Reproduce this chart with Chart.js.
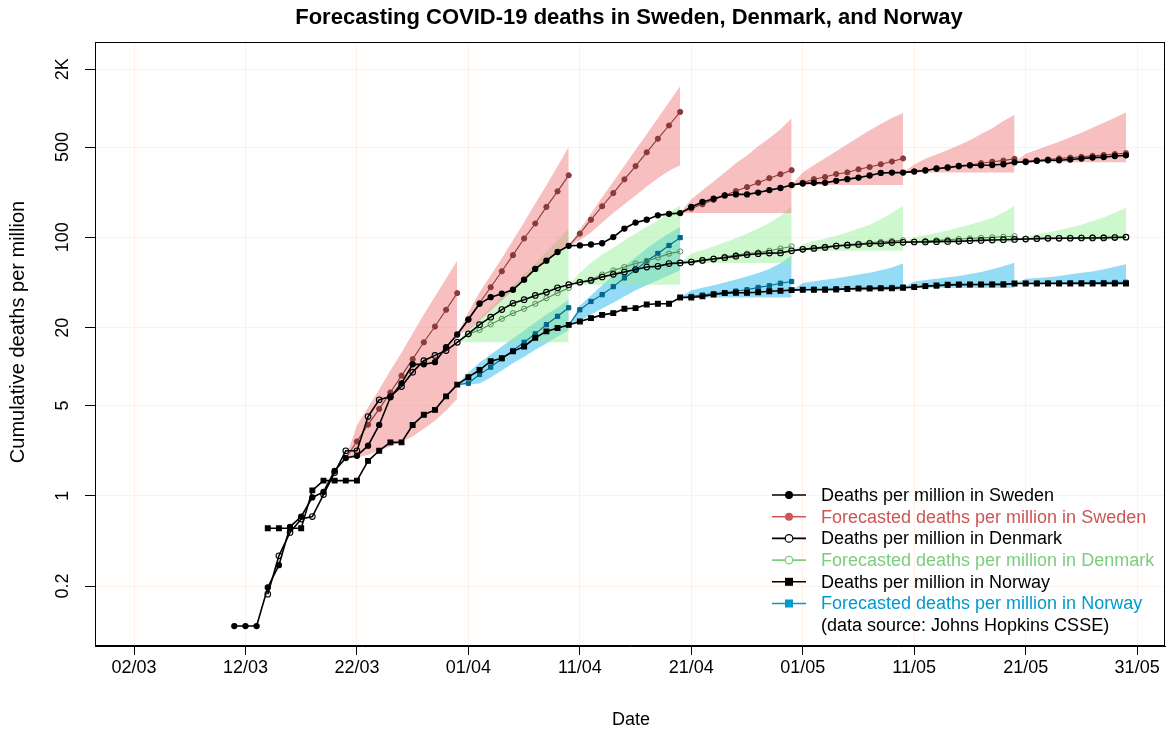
<!DOCTYPE html>
<html><head><meta charset="utf-8">
<script src="https://cdn.jsdelivr.net/npm/chart.js@4.4.0/dist/chart.umd.min.js"></script>
<style>html,body{margin:0;padding:0;background:#fff;}canvas{display:block;}</style>
</head><body>
<canvas id="c" width="1167" height="731"></canvas>
<script>
// ---------- DATA ----------
// x = day offset from 02/03
const xTickDays = [0,10,20,30,40,50,60,70,80,90];
const xTickLabels = ['02/03','12/03','22/03','01/04','11/04','21/04','01/05','11/05','21/05','31/05'];
const yTickValues = [0.2,1,5,20,100,500,2000];
const yTickLabels = ['0.2','1','5','20','100','500','2K'];

const swedenStartDay = 9;
const swedenDeaths = [0.098,0.098,0.098,0.195,0.29,0.575,0.69,0.97,1.07,1.56,
1.96,2.04,2.44,3.53,5.78,7.42,10.4,10.4,10.8,14.1,
17.7,23.1,30.6,34.4,36.6,39.3,47,57,66,77,
86,86.6,88,90,100.5,117,130,137,148,152,
154,172,188,199,211,215,215,222,232,241,
254,261,264,264,274,282,290,301,315,317,
317,323,329,341,347,357,361,361,363,368,
381,383,390,395,395,400,407,414,418,426,
431];

const denmarkStartDay = 12;
const denmarkDeaths = [0.173,0.343,0.52,0.66,0.69,1.02,1.51,2.23,
2.23,4.1,5.53,5.85,7.0,9.05,11.1,12.2,13.3,15.4,
17.9,21.1,24.1,27.6,30.9,32.9,35.5,37.6,40.7,43.0,
44.9,46.4,49.3,51.7,53.9,56.3,58.9,59.6,62.6,63.4,
64.3,66.3,67.9,69.6,71.5,73.3,74.7,75.5,75.8,78.7,
80.7,82.1,83.6,85.6,86.9,88.0,89.5,89.5,91.1,91.5,
92.0,92.1,92.6,93.0,93.1,94.2,94.7,95.3,95.9,96.4,
97.0,97.7,98.2,98.3,98.4,98.8,98.9,99.0,99.6,100.2];

const norwayStartDay = 12;
const norwayDeaths = [0.56,0.56,0.56,0.56,1.1,1.31,1.31,1.31,
1.31,1.86,2.23,2.59,2.59,3.53,4.24,4.62,5.88,7.25,
8.27,9.4,11.0,11.6,13.1,14.3,16.7,18.7,19.9,21.0,
22.3,23.7,25.1,25.9,28.0,28.3,30.2,30.6,30.6,34.2,
34.2,34.9,36.1,37.0,37.2,37.2,37.6,38.3,38.6,39.0,
39.3,39.3,39.3,39.5,39.8,40.1,40.1,40.3,40.3,40.7,
41.2,41.9,42.4,42.9,43.2,43.2,43.2,43.2,43.2,43.9,
43.9,43.9,43.9,43.9,43.9,43.9,43.9,43.9,43.9,43.9];

// forecasts: anchor day (last observed), 10 forecast values, band (anchor + 10 days)
const swedenForecastDays = [19,29,39,49,59,69,79];
const swedenForecast = [
 [2.63,3.55,4.7,6.3,8.5,11.4,15.4,20.4,27.5,37.0],
 [23.3,31.0,41.1,54.6,72.8,98,128,172,227,302],
 [107,137,174,220,281,356,455,580,734,935],
 [167,180,195,211,228,245,265,287,308,331],
 [265,282,293,309,318,336,350,368,386,408],
 [324,331,338,345,353,362,375,385,393,405],
 [388,395,401,408,414,420,427,434,441,448]];
const swedenUpper = [
 [1.96,3.49,4.81,6.63,9.31,12.8,18.0,25.3,34.9,48.1,66.3],
 [17.7,26.2,37.5,50.7,68.8,94.8,131,183,253,355,501],
 [86,115,153,204,269,358,477,629,836,1113,1480],
 [154,197,231,271,318,375,430,507,584,687,832],
 [254,317,363,409,464,526,596,675,753,840,917],
 [317,366,405,437,474,517,565,631,700,795,890],
 [381,443,477,512,550,596,646,706,772,844,926]];
const swedenLower = [
 [1.96,1.97,2.08,2.23,2.40,2.62,2.87,3.30,3.81,4.56,5.62],
 [17.7,19.0,22.7,27.1,32.5,38.9,46.5,55.6,64.5,75.2,86.7],
 [86,94.9,109,130,154,180,211,247,287,327,361],
 [154,154,154,154,154,154,154,154,154,154,154],
 [254,254,254,254,254,254,254,254,254,254,254],
 [317,317,317,317,317,317,317,317,317,317,317],
 [381,381,381,381,381,381,381,381,381,381,381]];

const denmarkForecastDays = [29,39,49,59,69,79];
const denmarkForecast = [
 [17.9,19.2,21.2,23.4,25.9,28.0,30.6,33.8,37.0,40.6],
 [44.9,46.9,51.5,55.5,58.9,62.7,65.6,69.7,74.8,77.7],
 [64.7,66.6,68.6,70.7,72.8,74.9,76.3,78.7,81.9,85.0],
 [81,82.8,84.5,86.2,87.8,89.3,90.8,92.2,93.5,94.8],
 [92.5,93.7,94.8,95.9,97,98,99,100,101,102],
 [97.2,97.8,98.3,98.8,99.2,99.5,99.8,100.1,100.4,100.7]];
const denmarkUpper = [
 [15.4,19.4,23.5,28.6,34.9,42.5,51.7,63.0,77.7,94.5,117],
 [43.0,53.3,63.6,73.5,83.1,94.5,107,121,135,156,177],
 [63.4,75.0,79.9,85.0,91.5,98.5,107,117,129,146,175],
 [78.7,88.2,93.7,97.4,103,109,117,125,138,154,175],
 [91.5,100,104,108.5,113,119,125,133,141,156,175],
 [96.4,101,105,109,114,119,125,134,143,155,169]];
const denmarkLower = [
 [15.4,15.4,15.4,15.4,15.4,15.4,15.4,15.4,15.4,15.4,15.4],
 [43.0,43.0,43.0,43.0,43.0,43.0,43.0,43.0,43.0,43.0,43.0],
 [63.4,63.4,63.4,63.4,63.4,63.4,63.4,63.4,63.4,63.4,63.4],
 [78.7,78.7,78.7,78.7,78.7,78.7,78.7,78.7,78.7,78.7,78.7],
 [91.5,91.5,91.5,91.5,91.5,91.5,91.5,91.5,91.5,91.5,91.5],
 [96.4,96.4,96.4,96.4,96.4,96.4,96.4,96.4,96.4,96.4,96.4]];

const norwayForecastDays = [29,39,49,59,69,79];
const norwayForecast = [
 [7.42,8.67,9.9,11.5,13.3,15.4,17.9,21.1,24.5,28.5],
 [27.5,31.9,36.0,41.5,48.5,56.0,65.6,75.0,86.5,99.5],
 [34.9,35.8,36.7,37.3,38.4,39.3,41.0,42.2,44.1,45.5],
 [39.4,39.6,39.8,40.0,40.2,40.4,40.6,40.8,41.0,41.2],
 [41.2,41.6,42.0,42.4,42.7,43.0,43.2,43.4,43.6,43.8],
 [44.0,44.1,44.2,44.3,44.4,44.5,44.6,44.7,44.8,44.9]];
const norwayUpper = [
 [7.25,8.98,10.7,12.4,14.3,16.5,19.0,21.9,25.3,28.7,32.9],
 [21.0,29.6,35.5,42.5,50.4,59.7,69.9,81.8,94.5,107,120],
 [34.2,38.9,40.7,42.5,44.7,47.1,49.7,52.9,57.0,63.0,72.5],
 [39.0,44.3,45.7,47.0,48.3,49.8,51.5,53.1,55.6,58.5,62.7],
 [40.7,45.6,46.8,47.7,49.0,50.3,52.1,54.0,56.5,59.6,63.7],
 [43.9,47.9,48.5,49.1,50.3,51.7,53.1,54.5,56.5,59.1,61.8]];
const norwayLower = [
 [7.25,7.25,7.38,8.22,9.3,10.6,11.9,13.5,15.1,17.1,19.0],
 [21.0,22.7,25.3,28.1,31.2,34.9,38.9,42.5,46.5,50.8,55.6],
 [34.2,34.2,34.2,34.2,34.2,34.2,34.2,34.2,34.2,34.2,34.2],
 [39.0,39.0,39.0,39.0,39.0,39.0,39.0,39.0,39.0,39.0,39.0],
 [40.7,40.7,40.7,40.7,40.7,40.7,40.7,40.7,40.7,40.7,40.7],
 [43.9,43.9,43.9,43.9,43.9,43.9,43.9,43.9,43.9,43.9,43.9]];

const legendLabels = ['Deaths per million in Sweden','Forecasted deaths per million in Sweden',
 'Deaths per million in Denmark','Forecasted deaths per million in Denmark',
 'Deaths per million in Norway','Forecasted deaths per million in Norway',
 '(data source: Johns Hopkins CSSE)'];

// ---------- BUILD ----------
const FONT = '"Liberation Sans", Arial, Helvetica, sans-serif';
const series = (start, arr) => arr.map((v,i)=>({x:start+i, y:v}));
const valAt = (start, arr, d) => arr[d-start];

const countries = [
 {name:'Sweden', start:swedenStartDay, deaths:swedenDeaths, fdays:swedenForecastDays, fc:swedenForecast, up:swedenUpper, lo:swedenLower,
  pointStyle:'circle', fill:true, r:2.6, fcolor:'#8b3a3a', band:'rgba(240,128,128,0.5)'},
 {name:'Denmark', start:denmarkStartDay, deaths:denmarkDeaths, fdays:denmarkForecastDays, fc:denmarkForecast, up:denmarkUpper, lo:denmarkLower,
  pointStyle:'circle', fill:false, r:2.8, fcolor:'#548b54', band:'rgba(144,238,144,0.45)'},
 {name:'Norway', start:norwayStartDay, deaths:norwayDeaths, fdays:norwayForecastDays, fc:norwayForecast, up:norwayUpper, lo:norwayLower,
  pointStyle:'rect', fill:true, r:3.4, fcolor:'#00688b', band:'rgba(0,170,230,0.42)'}
];

const datasets = [];
// actual series (on top)
countries.forEach(c=>{
  datasets.push({data:series(c.start,c.deaths), borderColor:'#000', borderWidth:1.6,
    pointStyle:c.pointStyle, pointRadius:c.r, pointHoverRadius:c.r, pointBorderWidth:1.1, pointBorderColor:'#000',
    pointBackgroundColor:c.fill?'#000':'rgba(0,0,0,0)', fill:false, tension:0});
});
// forecast lines (start at the last observed value)
countries.forEach(c=>{
  c.fdays.forEach((d,k)=>{
    const pts=[{x:d,y:valAt(c.start,c.deaths,d)}].concat(c.fc[k].map((v,i)=>({x:d+1+i,y:v})));
    datasets.push({data:pts, borderColor:c.fcolor, borderWidth:1.1,
      pointStyle:c.pointStyle, pointRadius:(ctx)=>ctx.dataIndex===0?0:(c.pointStyle==='rect'?3.0:2.6),
      pointHoverRadius:0, pointBorderWidth:1, pointBorderColor:c.fcolor,
      pointBackgroundColor:c.fill?c.fcolor:'rgba(0,0,0,0)', fill:false, tension:0});
  });
});
// uncertainty bands (drawn first, at the bottom)
countries.forEach(c=>{
  c.fdays.forEach((d,k)=>{
    const upIdx=datasets.length;
    datasets.push({data:c.up[k].map((v,i)=>({x:d+i,y:v})), borderWidth:0, borderColor:'rgba(0,0,0,0)',
      pointRadius:0, pointHoverRadius:0, backgroundColor:c.band, fill:upIdx+1, tension:0});
    datasets.push({data:c.lo[k].map((v,i)=>({x:d+i,y:v})), borderWidth:0, borderColor:'rgba(0,0,0,0)',
      pointRadius:0, pointHoverRadius:0, fill:false, tension:0});
  });
});

const GRID = 'rgba(255,190,150,0.22)';

const decor = {
  id:'decor',
  afterDraw(chart){
    const ctx=chart.ctx, a=chart.chartArea, ys=chart.scales.y;
    ctx.save();
    // box
    ctx.strokeStyle='#000'; ctx.lineWidth=1;
    ctx.strokeRect(Math.round(a.left)+0.5, Math.round(a.top)+0.5, Math.round(a.right-a.left)-1, Math.round(a.bottom-a.top)-1);
    // y tick labels rotated
    ctx.fillStyle='#000'; ctx.font='18px '+FONT; ctx.textAlign='center'; ctx.textBaseline='middle';
    yTickValues.forEach((v,i)=>{
      const py=ys.getPixelForValue(v);
      ctx.save(); ctx.translate(63,py); ctx.rotate(-Math.PI/2); ctx.fillText(yTickLabels[i],0,0); ctx.restore();
    });
    // title
    ctx.font='bold 22px '+FONT;
    ctx.fillText('Forecasting COVID-19 deaths in Sweden, Denmark, and Norway', 629, 18);
    // axis titles
    ctx.font='18px '+FONT;
    ctx.fillText('Date', 631, 720);
    ctx.save(); ctx.translate(18,332); ctx.rotate(-Math.PI/2);
    ctx.font='20px '+FONT;
    ctx.fillText('Cumulative deaths per million',0,0); ctx.restore();
    // legend
    const rows=[
      {c:'#000', t:'#000', m:'fcircle'},
      {c:'#cd5555', t:'#cd5555', m:'fcircle'},
      {c:'#000', t:'#000', m:'ocircle'},
      {c:'#7ccd7c', t:'#7ccd7c', m:'ocircle'},
      {c:'#000', t:'#000', m:'square'},
      {c:'#009acd', t:'#009acd', m:'square'},
      {c:null, t:'#000', m:null}];
    ctx.font='18px '+FONT;
    ctx.textAlign='left';
    rows.forEach((r,i)=>{
      const y=495+i*21.7;
      if(r.c){
        ctx.strokeStyle=r.c; ctx.lineWidth=1.6;
        ctx.beginPath(); ctx.moveTo(772,y); ctx.lineTo(806,y); ctx.stroke();
        ctx.fillStyle=r.c;
        if(r.m==='fcircle'){ctx.beginPath();ctx.arc(789,y,4,0,Math.PI*2);ctx.fill();}
        else if(r.m==='ocircle'){ctx.beginPath();ctx.arc(789,y,3.8,0,Math.PI*2);ctx.fillStyle='#fff';ctx.fill();ctx.lineWidth=1.2;ctx.stroke();}
        else {ctx.fillRect(785,y-4,8,8);}
      }
      ctx.fillStyle=r.t;
      ctx.fillText(legendLabels[i],821,y+1);
    });
    ctx.restore();
  }
};

new Chart(document.getElementById('c'),{
  type:'line',
  data:{datasets},
  options:{
    responsive:false, animation:false, devicePixelRatio:1, events:[],
    layout:{autoPadding:false, padding:{top:42,right:2,left:0,bottom:0}},
    plugins:{legend:{display:false}, tooltip:{enabled:false}, title:{display:false}},
    scales:{
      x:{type:'linear', min:-3.5, max:92.5,
        afterBuildTicks:(s)=>{s.ticks=xTickDays.map(v=>({value:v}));},
        afterFit:(s)=>{s.height=85; s.paddingLeft=0; s.paddingRight=0;},
        ticks:{autoSkip:false, maxRotation:0, minRotation:0, padding:2, color:'#000', font:{family:FONT,size:18},
          callback:(v)=>{const i=xTickDays.indexOf(v); return i>=0?xTickLabels[i]:'';}},
        grid:{color:GRID, tickColor:'#000', tickLength:9, lineWidth:1},
        border:{display:true, color:'#000', width:1}},
      y:{type:'logarithmic', min:0.0687, max:3250,
        afterBuildTicks:(s)=>{s.ticks=yTickValues.map(v=>({value:v}));},
        afterFit:(s)=>{s.width=95; s.paddingTop=0; s.paddingBottom=0;},
        ticks:{display:false},
        grid:{color:GRID, tickColor:'#000', tickLength:10, lineWidth:1},
        border:{display:true, color:'#000', width:1}}
    }
  },
  plugins:[decor]
});
</script>
</body></html>
